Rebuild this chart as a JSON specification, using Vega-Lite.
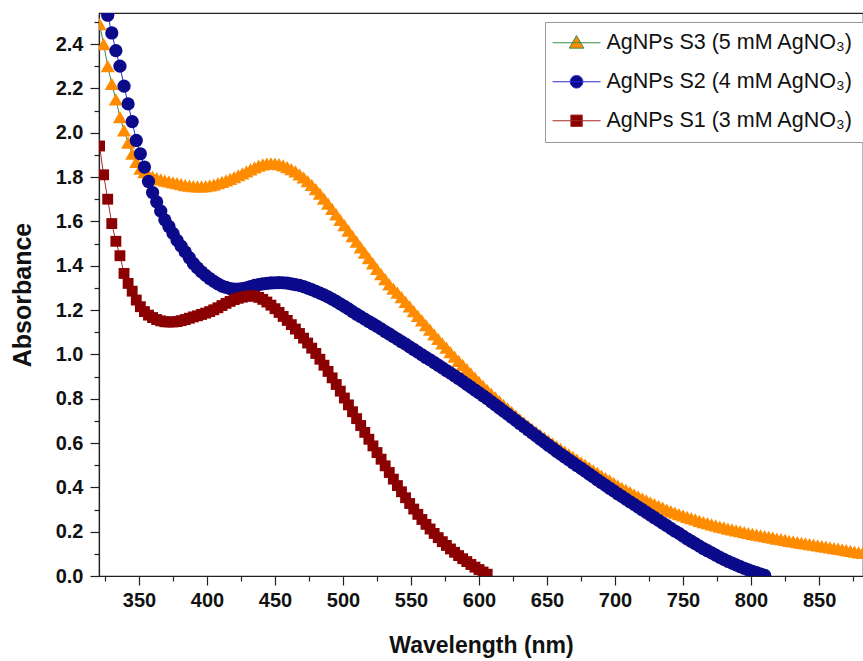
{
"$schema":"https://vega.github.io/schema/vega-lite/v6.json",
"width":764,"height":563,
"autosize":{"type":"none"},
"padding":{"left":99,"top":13,"right":0,"bottom":85},
"background":"white",
"config":{"font":"Liberation Sans","view":{"stroke":"#222","strokeWidth":1.2}},
"data":{"values":[
{"s":"S3","x":321,"y":2.49},{"s":"S3","x":324,"y":2.40},{"s":"S3","x":327,"y":2.30},{"s":"S3","x":330,"y":2.22},{"s":"S3","x":333,"y":2.15},{"s":"S3","x":336,"y":2.07},{"s":"S3","x":339,"y":2.01},{"s":"S3","x":342,"y":1.955},{"s":"S3","x":345,"y":1.905},{"s":"S3","x":348,"y":1.868},{"s":"S3","x":351,"y":1.838},{"s":"S3","x":354,"y":1.822},{"s":"S3","x":357,"y":1.81},{"s":"S3","x":360,"y":1.801},{"s":"S3","x":363,"y":1.795},{"s":"S3","x":366,"y":1.789},{"s":"S3","x":369,"y":1.784},{"s":"S3","x":372,"y":1.78},{"s":"S3","x":375,"y":1.776},{"s":"S3","x":378,"y":1.772},{"s":"S3","x":381,"y":1.768},{"s":"S3","x":384,"y":1.764},{"s":"S3","x":387,"y":1.761},{"s":"S3","x":390,"y":1.759},{"s":"S3","x":393,"y":1.758},{"s":"S3","x":396,"y":1.758},{"s":"S3","x":399,"y":1.759},{"s":"S3","x":402,"y":1.762},{"s":"S3","x":405,"y":1.766},{"s":"S3","x":408,"y":1.772},{"s":"S3","x":411,"y":1.778},{"s":"S3","x":414,"y":1.785},{"s":"S3","x":417,"y":1.792},{"s":"S3","x":420,"y":1.8},{"s":"S3","x":423,"y":1.808},{"s":"S3","x":426,"y":1.816},{"s":"S3","x":429,"y":1.826},{"s":"S3","x":432,"y":1.835},{"s":"S3","x":435,"y":1.844},{"s":"S3","x":438,"y":1.851},{"s":"S3","x":441,"y":1.857},{"s":"S3","x":444,"y":1.861},{"s":"S3","x":447,"y":1.862},{"s":"S3","x":450,"y":1.861},{"s":"S3","x":453,"y":1.858},{"s":"S3","x":456,"y":1.852},{"s":"S3","x":459,"y":1.845},{"s":"S3","x":462,"y":1.836},{"s":"S3","x":465,"y":1.825},{"s":"S3","x":468,"y":1.812},{"s":"S3","x":471,"y":1.798},{"s":"S3","x":474,"y":1.782},{"s":"S3","x":477,"y":1.765},{"s":"S3","x":480,"y":1.745},{"s":"S3","x":483,"y":1.725},{"s":"S3","x":486,"y":1.703},{"s":"S3","x":489,"y":1.68},{"s":"S3","x":492,"y":1.656},{"s":"S3","x":495,"y":1.632},{"s":"S3","x":498,"y":1.607},{"s":"S3","x":501,"y":1.583},{"s":"S3","x":504,"y":1.558},{"s":"S3","x":507,"y":1.533},{"s":"S3","x":510,"y":1.508},{"s":"S3","x":513,"y":1.483},{"s":"S3","x":516,"y":1.459},{"s":"S3","x":519,"y":1.434},{"s":"S3","x":522,"y":1.41},{"s":"S3","x":525,"y":1.386},{"s":"S3","x":528,"y":1.362},{"s":"S3","x":531,"y":1.339},{"s":"S3","x":534,"y":1.316},{"s":"S3","x":537,"y":1.297},{"s":"S3","x":540,"y":1.279},{"s":"S3","x":543,"y":1.258},{"s":"S3","x":546,"y":1.237},{"s":"S3","x":549,"y":1.216},{"s":"S3","x":552,"y":1.195},{"s":"S3","x":555,"y":1.174},{"s":"S3","x":558,"y":1.153},{"s":"S3","x":561,"y":1.132},{"s":"S3","x":564,"y":1.111},{"s":"S3","x":567,"y":1.09},{"s":"S3","x":570,"y":1.07},{"s":"S3","x":573,"y":1.05},{"s":"S3","x":576,"y":1.03},{"s":"S3","x":579,"y":1.01},{"s":"S3","x":582,"y":0.99},{"s":"S3","x":585,"y":0.971},{"s":"S3","x":588,"y":0.952},{"s":"S3","x":591,"y":0.933},{"s":"S3","x":594,"y":0.914},{"s":"S3","x":597,"y":0.895},{"s":"S3","x":600,"y":0.876},{"s":"S3","x":603,"y":0.858},{"s":"S3","x":606,"y":0.84},{"s":"S3","x":609,"y":0.823},{"s":"S3","x":612,"y":0.806},{"s":"S3","x":615,"y":0.789},{"s":"S3","x":618,"y":0.772},{"s":"S3","x":621,"y":0.756},{"s":"S3","x":624,"y":0.74},{"s":"S3","x":627,"y":0.724},{"s":"S3","x":630,"y":0.708},{"s":"S3","x":633,"y":0.693},{"s":"S3","x":636,"y":0.678},{"s":"S3","x":639,"y":0.664},{"s":"S3","x":642,"y":0.65},{"s":"S3","x":645,"y":0.637},{"s":"S3","x":648,"y":0.624},{"s":"S3","x":651,"y":0.611},{"s":"S3","x":654,"y":0.598},{"s":"S3","x":657,"y":0.586},{"s":"S3","x":660,"y":0.573},{"s":"S3","x":663,"y":0.561},{"s":"S3","x":666,"y":0.549},{"s":"S3","x":669,"y":0.537},{"s":"S3","x":672,"y":0.525},{"s":"S3","x":675,"y":0.513},{"s":"S3","x":678,"y":0.501},{"s":"S3","x":681,"y":0.489},{"s":"S3","x":684,"y":0.477},{"s":"S3","x":687,"y":0.465},{"s":"S3","x":690,"y":0.453},{"s":"S3","x":693,"y":0.442},{"s":"S3","x":696,"y":0.431},{"s":"S3","x":699,"y":0.42},{"s":"S3","x":702,"y":0.409},{"s":"S3","x":705,"y":0.398},{"s":"S3","x":708,"y":0.388},{"s":"S3","x":711,"y":0.378},{"s":"S3","x":714,"y":0.368},{"s":"S3","x":717,"y":0.359},{"s":"S3","x":720,"y":0.35},{"s":"S3","x":723,"y":0.341},{"s":"S3","x":726,"y":0.332},{"s":"S3","x":729,"y":0.324},{"s":"S3","x":732,"y":0.316},{"s":"S3","x":735,"y":0.308},{"s":"S3","x":738,"y":0.3},{"s":"S3","x":741,"y":0.293},{"s":"S3","x":744,"y":0.286},{"s":"S3","x":747,"y":0.279},{"s":"S3","x":750,"y":0.273},{"s":"S3","x":753,"y":0.267},{"s":"S3","x":756,"y":0.261},{"s":"S3","x":759,"y":0.255},{"s":"S3","x":762,"y":0.249},{"s":"S3","x":765,"y":0.243},{"s":"S3","x":768,"y":0.238},{"s":"S3","x":771,"y":0.233},{"s":"S3","x":774,"y":0.228},{"s":"S3","x":777,"y":0.223},{"s":"S3","x":780,"y":0.219},{"s":"S3","x":783,"y":0.214},{"s":"S3","x":786,"y":0.21},{"s":"S3","x":789,"y":0.206},{"s":"S3","x":792,"y":0.202},{"s":"S3","x":795,"y":0.198},{"s":"S3","x":798,"y":0.194},{"s":"S3","x":801,"y":0.19},{"s":"S3","x":804,"y":0.187},{"s":"S3","x":807,"y":0.183},{"s":"S3","x":810,"y":0.18},{"s":"S3","x":813,"y":0.176},{"s":"S3","x":816,"y":0.173},{"s":"S3","x":819,"y":0.169},{"s":"S3","x":822,"y":0.166},{"s":"S3","x":825,"y":0.163},{"s":"S3","x":828,"y":0.159},{"s":"S3","x":831,"y":0.156},{"s":"S3","x":834,"y":0.153},{"s":"S3","x":837,"y":0.15},{"s":"S3","x":840,"y":0.147},{"s":"S3","x":843,"y":0.144},{"s":"S3","x":846,"y":0.141},{"s":"S3","x":849,"y":0.138},{"s":"S3","x":852,"y":0.135},{"s":"S3","x":855,"y":0.132},{"s":"S3","x":858,"y":0.129},{"s":"S3","x":861,"y":0.126},{"s":"S3","x":864,"y":0.123},{"s":"S3","x":867,"y":0.12},{"s":"S3","x":870,"y":0.117},{"s":"S3","x":873,"y":0.113},{"s":"S3","x":876,"y":0.11},{"s":"S3","x":879,"y":0.107},{"s":"S3","x":882,"y":0.104},
{"s":"S2","x":324,"y":2.62},{"s":"S2","x":327,"y":2.53},{"s":"S2","x":330,"y":2.45},{"s":"S2","x":333,"y":2.37},{"s":"S2","x":336,"y":2.3},{"s":"S2","x":339,"y":2.21},{"s":"S2","x":342,"y":2.13},{"s":"S2","x":345,"y":2.05},{"s":"S2","x":348,"y":1.965},{"s":"S2","x":351,"y":1.905},{"s":"S2","x":354,"y":1.845},{"s":"S2","x":357,"y":1.78},{"s":"S2","x":360,"y":1.73},{"s":"S2","x":363,"y":1.688},{"s":"S2","x":366,"y":1.646},{"s":"S2","x":369,"y":1.607},{"s":"S2","x":372,"y":1.577},{"s":"S2","x":375,"y":1.546},{"s":"S2","x":378,"y":1.514},{"s":"S2","x":381,"y":1.488},{"s":"S2","x":384,"y":1.462},{"s":"S2","x":387,"y":1.436},{"s":"S2","x":390,"y":1.41},{"s":"S2","x":393,"y":1.39},{"s":"S2","x":396,"y":1.372},{"s":"S2","x":399,"y":1.356},{"s":"S2","x":402,"y":1.342},{"s":"S2","x":405,"y":1.329},{"s":"S2","x":408,"y":1.318},{"s":"S2","x":411,"y":1.308},{"s":"S2","x":414,"y":1.302},{"s":"S2","x":417,"y":1.297},{"s":"S2","x":420,"y":1.294},{"s":"S2","x":423,"y":1.294},{"s":"S2","x":426,"y":1.296},{"s":"S2","x":429,"y":1.3},{"s":"S2","x":432,"y":1.306},{"s":"S2","x":435,"y":1.311},{"s":"S2","x":438,"y":1.315},{"s":"S2","x":441,"y":1.318},{"s":"S2","x":444,"y":1.32},{"s":"S2","x":447,"y":1.322},{"s":"S2","x":450,"y":1.323},{"s":"S2","x":453,"y":1.324},{"s":"S2","x":456,"y":1.323},{"s":"S2","x":459,"y":1.321},{"s":"S2","x":462,"y":1.318},{"s":"S2","x":465,"y":1.315},{"s":"S2","x":468,"y":1.311},{"s":"S2","x":471,"y":1.306},{"s":"S2","x":474,"y":1.299},{"s":"S2","x":477,"y":1.292},{"s":"S2","x":480,"y":1.284},{"s":"S2","x":483,"y":1.276},{"s":"S2","x":486,"y":1.268},{"s":"S2","x":489,"y":1.259},{"s":"S2","x":492,"y":1.249},{"s":"S2","x":495,"y":1.239},{"s":"S2","x":498,"y":1.228},{"s":"S2","x":501,"y":1.217},{"s":"S2","x":504,"y":1.205},{"s":"S2","x":507,"y":1.193},{"s":"S2","x":510,"y":1.181},{"s":"S2","x":513,"y":1.17},{"s":"S2","x":516,"y":1.159},{"s":"S2","x":519,"y":1.148},{"s":"S2","x":522,"y":1.137},{"s":"S2","x":525,"y":1.126},{"s":"S2","x":528,"y":1.115},{"s":"S2","x":531,"y":1.103},{"s":"S2","x":534,"y":1.092},{"s":"S2","x":537,"y":1.08},{"s":"S2","x":540,"y":1.069},{"s":"S2","x":543,"y":1.057},{"s":"S2","x":546,"y":1.046},{"s":"S2","x":549,"y":1.034},{"s":"S2","x":552,"y":1.022},{"s":"S2","x":555,"y":1.01},{"s":"S2","x":558,"y":0.998},{"s":"S2","x":561,"y":0.986},{"s":"S2","x":564,"y":0.975},{"s":"S2","x":567,"y":0.963},{"s":"S2","x":570,"y":0.951},{"s":"S2","x":573,"y":0.939},{"s":"S2","x":576,"y":0.927},{"s":"S2","x":579,"y":0.915},{"s":"S2","x":582,"y":0.903},{"s":"S2","x":585,"y":0.891},{"s":"S2","x":588,"y":0.878},{"s":"S2","x":591,"y":0.865},{"s":"S2","x":594,"y":0.852},{"s":"S2","x":597,"y":0.839},{"s":"S2","x":600,"y":0.826},{"s":"S2","x":603,"y":0.813},{"s":"S2","x":606,"y":0.8},{"s":"S2","x":609,"y":0.786},{"s":"S2","x":612,"y":0.772},{"s":"S2","x":615,"y":0.758},{"s":"S2","x":618,"y":0.744},{"s":"S2","x":621,"y":0.73},{"s":"S2","x":624,"y":0.716},{"s":"S2","x":627,"y":0.702},{"s":"S2","x":630,"y":0.688},{"s":"S2","x":633,"y":0.674},{"s":"S2","x":636,"y":0.66},{"s":"S2","x":639,"y":0.646},{"s":"S2","x":642,"y":0.632},{"s":"S2","x":645,"y":0.618},{"s":"S2","x":648,"y":0.604},{"s":"S2","x":651,"y":0.59},{"s":"S2","x":654,"y":0.577},{"s":"S2","x":657,"y":0.563},{"s":"S2","x":660,"y":0.55},{"s":"S2","x":663,"y":0.537},{"s":"S2","x":666,"y":0.524},{"s":"S2","x":669,"y":0.511},{"s":"S2","x":672,"y":0.498},{"s":"S2","x":675,"y":0.486},{"s":"S2","x":678,"y":0.473},{"s":"S2","x":681,"y":0.46},{"s":"S2","x":684,"y":0.447},{"s":"S2","x":687,"y":0.434},{"s":"S2","x":690,"y":0.421},{"s":"S2","x":693,"y":0.409},{"s":"S2","x":696,"y":0.396},{"s":"S2","x":699,"y":0.384},{"s":"S2","x":702,"y":0.371},{"s":"S2","x":705,"y":0.359},{"s":"S2","x":708,"y":0.347},{"s":"S2","x":711,"y":0.335},{"s":"S2","x":714,"y":0.323},{"s":"S2","x":717,"y":0.311},{"s":"S2","x":720,"y":0.299},{"s":"S2","x":723,"y":0.287},{"s":"S2","x":726,"y":0.275},{"s":"S2","x":729,"y":0.263},{"s":"S2","x":732,"y":0.251},{"s":"S2","x":735,"y":0.239},{"s":"S2","x":738,"y":0.227},{"s":"S2","x":741,"y":0.215},{"s":"S2","x":744,"y":0.203},{"s":"S2","x":747,"y":0.192},{"s":"S2","x":750,"y":0.18},{"s":"S2","x":753,"y":0.168},{"s":"S2","x":756,"y":0.157},{"s":"S2","x":759,"y":0.146},{"s":"S2","x":762,"y":0.135},{"s":"S2","x":765,"y":0.124},{"s":"S2","x":768,"y":0.114},{"s":"S2","x":771,"y":0.104},{"s":"S2","x":774,"y":0.094},{"s":"S2","x":777,"y":0.084},{"s":"S2","x":780,"y":0.075},{"s":"S2","x":783,"y":0.066},{"s":"S2","x":786,"y":0.058},{"s":"S2","x":789,"y":0.05},{"s":"S2","x":792,"y":0.042},{"s":"S2","x":795,"y":0.035},{"s":"S2","x":798,"y":0.028},{"s":"S2","x":801,"y":0.021},{"s":"S2","x":804,"y":0.015},{"s":"S2","x":807,"y":0.009},{"s":"S2","x":810,"y":0.003},
{"s":"S1","x":321,"y":1.94},{"s":"S1","x":324,"y":1.81},{"s":"S1","x":327,"y":1.7},{"s":"S1","x":330,"y":1.59},{"s":"S1","x":333,"y":1.51},{"s":"S1","x":336,"y":1.445},{"s":"S1","x":339,"y":1.365},{"s":"S1","x":342,"y":1.32},{"s":"S1","x":345,"y":1.285},{"s":"S1","x":348,"y":1.245},{"s":"S1","x":351,"y":1.215},{"s":"S1","x":354,"y":1.193},{"s":"S1","x":357,"y":1.177},{"s":"S1","x":360,"y":1.166},{"s":"S1","x":363,"y":1.157},{"s":"S1","x":366,"y":1.151},{"s":"S1","x":369,"y":1.147},{"s":"S1","x":372,"y":1.146},{"s":"S1","x":375,"y":1.146},{"s":"S1","x":378,"y":1.148},{"s":"S1","x":381,"y":1.152},{"s":"S1","x":384,"y":1.157},{"s":"S1","x":387,"y":1.163},{"s":"S1","x":390,"y":1.169},{"s":"S1","x":393,"y":1.174},{"s":"S1","x":396,"y":1.18},{"s":"S1","x":399,"y":1.186},{"s":"S1","x":402,"y":1.193},{"s":"S1","x":405,"y":1.201},{"s":"S1","x":408,"y":1.21},{"s":"S1","x":411,"y":1.22},{"s":"S1","x":414,"y":1.23},{"s":"S1","x":417,"y":1.239},{"s":"S1","x":420,"y":1.247},{"s":"S1","x":423,"y":1.253},{"s":"S1","x":426,"y":1.258},{"s":"S1","x":429,"y":1.262},{"s":"S1","x":432,"y":1.264},{"s":"S1","x":435,"y":1.263},{"s":"S1","x":438,"y":1.257},{"s":"S1","x":441,"y":1.248},{"s":"S1","x":444,"y":1.236},{"s":"S1","x":447,"y":1.222},{"s":"S1","x":450,"y":1.206},{"s":"S1","x":453,"y":1.189},{"s":"S1","x":456,"y":1.171},{"s":"S1","x":459,"y":1.153},{"s":"S1","x":462,"y":1.134},{"s":"S1","x":465,"y":1.114},{"s":"S1","x":468,"y":1.094},{"s":"S1","x":471,"y":1.073},{"s":"S1","x":474,"y":1.051},{"s":"S1","x":477,"y":1.028},{"s":"S1","x":480,"y":1.004},{"s":"S1","x":483,"y":0.978},{"s":"S1","x":486,"y":0.951},{"s":"S1","x":489,"y":0.923},{"s":"S1","x":492,"y":0.894},{"s":"S1","x":495,"y":0.864},{"s":"S1","x":498,"y":0.834},{"s":"S1","x":501,"y":0.803},{"s":"S1","x":504,"y":0.772},{"s":"S1","x":507,"y":0.741},{"s":"S1","x":510,"y":0.71},{"s":"S1","x":513,"y":0.679},{"s":"S1","x":516,"y":0.648},{"s":"S1","x":519,"y":0.617},{"s":"S1","x":522,"y":0.587},{"s":"S1","x":525,"y":0.557},{"s":"S1","x":528,"y":0.527},{"s":"S1","x":531,"y":0.497},{"s":"S1","x":534,"y":0.467},{"s":"S1","x":537,"y":0.437},{"s":"S1","x":540,"y":0.408},{"s":"S1","x":543,"y":0.38},{"s":"S1","x":546,"y":0.353},{"s":"S1","x":549,"y":0.327},{"s":"S1","x":552,"y":0.302},{"s":"S1","x":555,"y":0.278},{"s":"S1","x":558,"y":0.255},{"s":"S1","x":561,"y":0.233},{"s":"S1","x":564,"y":0.212},{"s":"S1","x":567,"y":0.192},{"s":"S1","x":570,"y":0.173},{"s":"S1","x":573,"y":0.155},{"s":"S1","x":576,"y":0.138},{"s":"S1","x":579,"y":0.122},{"s":"S1","x":582,"y":0.107},{"s":"S1","x":585,"y":0.092},{"s":"S1","x":588,"y":0.078},{"s":"S1","x":591,"y":0.065},{"s":"S1","x":594,"y":0.052},{"s":"S1","x":597,"y":0.04},{"s":"S1","x":600,"y":0.029},{"s":"S1","x":603,"y":0.018},{"s":"S1","x":606,"y":0.008}
]},
"encoding":{
"x":{"field":"x","type":"quantitative","scale":{"domain":[320.6,882.3],"nice":false,"zero":false},
 "axis":{"title":"Wavelength (nm)","values":[325,350,375,400,425,450,475,500,525,550,575,600,625,650,675,700,725,750,775,800,825,850,875],
 "labelExpr":"datum.value % 50 === 0 ? datum.label : ''","grid":false,"domainColor":"#222","domainWidth":1.2,"tickColor":"#222","tickWidth":1.2,
 "tickSize":{"condition":{"test":"datum.value % 50 === 0","value":9},"value":5},
 "labelFont":"Liberation Sans","labelFontWeight":"bold","labelFontSize":20,"labelColor":"#111","labelPadding":5,
 "titleFont":"Liberation Sans","titleFontWeight":"bold","titleFontSize":23,"titleColor":"#111","titlePadding":24}},
"y":{"field":"y","type":"quantitative","scale":{"domain":[0,2.54],"nice":false,"zero":false},
 "axis":{"title":"Absorbance","values":[0,0.1,0.2,0.3,0.4,0.5,0.6,0.7,0.8,0.9,1.0,1.1,1.2,1.3,1.4,1.5,1.6,1.7,1.8,1.9,2.0,2.1,2.2,2.3,2.4,2.5],
 "labelExpr":"round(datum.value*10) % 2 === 0 ? format(datum.value, '.1f') : ''","grid":false,"domainColor":"#222","domainWidth":1.2,"tickColor":"#222","tickWidth":1.2,
 "tickSize":{"condition":{"test":"round(datum.value*10) % 2 === 0","value":9},"value":5},
 "labelFont":"Liberation Sans","labelFontWeight":"bold","labelFontSize":20,"labelColor":"#111","labelPadding":7,
 "titleFont":"Liberation Sans","titleFontWeight":"bold","titleFontSize":25,"titleColor":"#111","titlePadding":20}}
},
"layer":[
{"mark":{"type":"line","strokeWidth":1,"clip":true},
 "encoding":{"color":{"field":"s","type":"nominal","scale":{"domain":["S3","S2","S1"],"range":["#3a8a4a","#2b2bd6","#a52a2a"]}}}},
{"mark":{"type":"point","filled":true,"opacity":1,"strokeWidth":0,"clip":true},
 "encoding":{
 "fill":{"field":"s","type":"nominal","scale":{"domain":["S3","S2","S1"],"range":["#ff8c00","#0a0a8a","#8b0000"]}},
 "shape":{"condition":[{"test":"datum.s === 'S3'","value":"triangle-up"},{"test":"datum.s === 'S2'","value":"circle"}],"value":"square"},
 "size":{"condition":[{"test":"datum.s === 'S3'","value":200},{"test":"datum.s === 'S2'","value":175}],"value":118}
 }},
{"transform":[{"filter":"false"}],
 "mark":{"type":"point","filled":true,"opacity":1,"strokeWidth":1},
 "encoding":{
 "fill":{"field":"s","type":"nominal"},
 "shape":{"field":"s","type":"nominal","scale":{"domain":["S3","S2","S1"],"range":["M-2.2,0H5.8M1.8,-1.2L3.0,0.9L0.6,0.9Z","M-2.2,0H5.8M0.75,0A1.05,1.05 0 1,1 2.85,0A1.05,1.05 0 1,1 0.75,0Z","M-2.2,0H5.8M0.85,-0.95H2.75V0.95H0.85Z"]},
  "legend":{"title":null,"orient":"none","legendX":446,"legendY":9,"padding":10,"strokeColor":"#999","fillColor":"white",
   "symbolSize":144,"symbolStrokeWidth":1,"symbolOpacity":1,"labelOffset":30,"rowPadding":16,"labelFont":"Liberation Sans","labelFontSize":21.5,"labelColor":"#111","labelLimit":400,
   "labelExpr":"datum.value === 'S3' ? 'AgNPs S3 (5 mM AgNO₃)' : datum.value === 'S2' ? 'AgNPs S2 (4 mM AgNO₃)' : 'AgNPs S1 (3 mM AgNO₃)'"}}
 }}
]
}
